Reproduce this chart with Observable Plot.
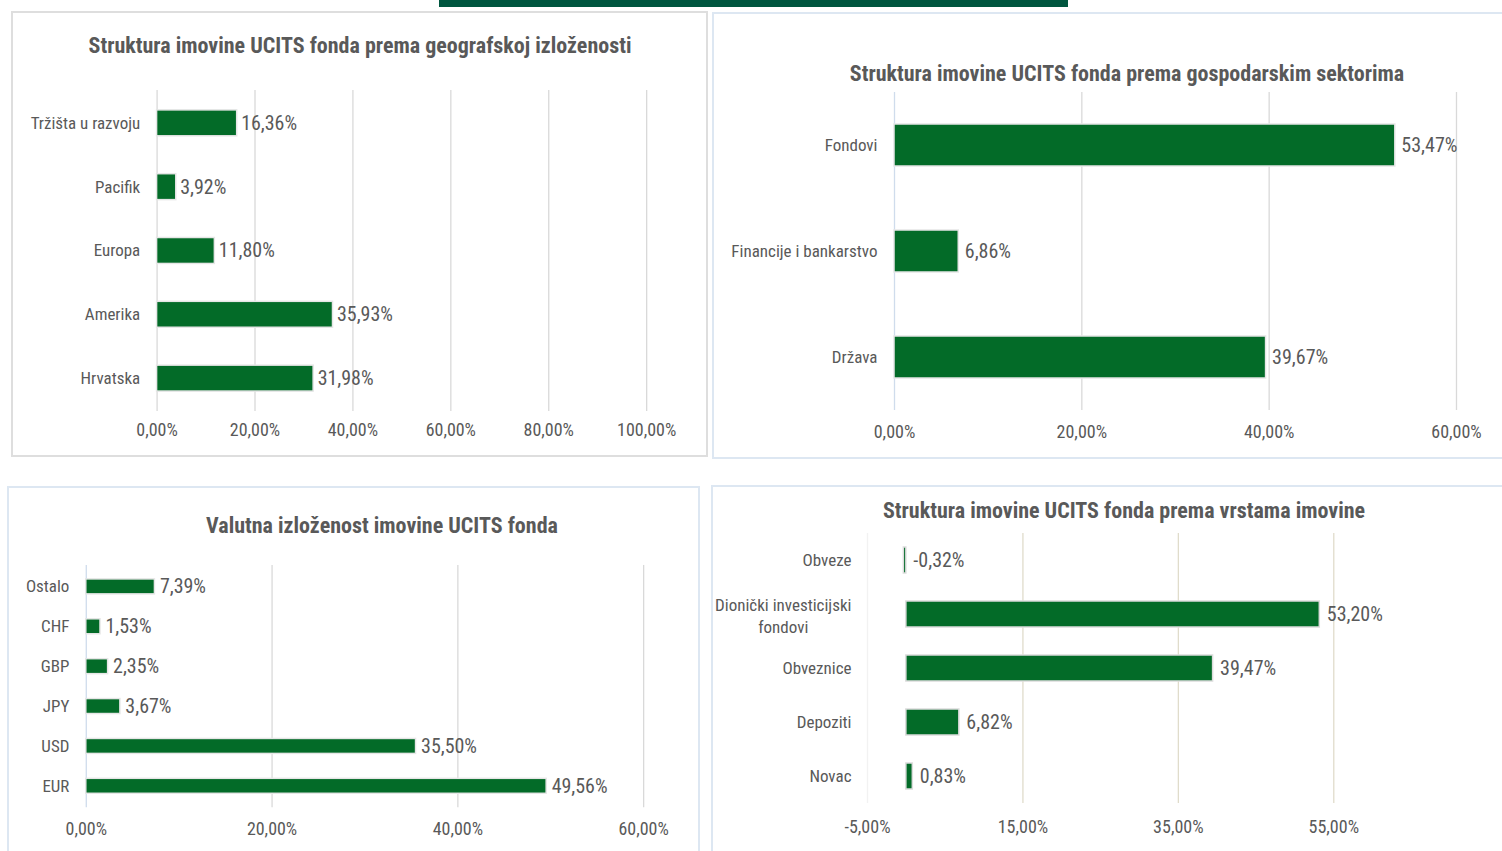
<!DOCTYPE html>
<html>
<head>
<meta charset="utf-8">
<script src="https://cdn.jsdelivr.net/npm/d3@7"></script>
<script src="https://cdn.jsdelivr.net/npm/@observablehq/plot@0.6"></script>
<style>
  html, body { margin: 0; padding: 0; background: #fff; width: 1502px; height: 851px; overflow: hidden; }
  body { position: relative; font-family: "Liberation Sans Narrow", "Arial Narrow", Roboto, sans-serif; font-stretch: condensed; }
  .topbar { position: absolute; left: 439px; top: 0; width: 629px; height: 7px; background: #00563f; }
  .panel { position: absolute; box-sizing: border-box; background: #fff; }
  .title { position: absolute; width: 1000px; text-align: center; font-weight: bold; font-size: 22px; color: #595959; white-space: nowrap; }
  .chart { position: absolute; }
  .chart svg { overflow: visible; font-stretch: condensed; }
</style>
</head>
<body>
<div class="topbar"></div>
<div id="p1" class="panel" style="left:11px;top:11px;width:697px;height:446px;border:2px solid #dedede;"></div>
<div id="p2" class="panel" style="left:712px;top:12px;width:800px;height:447px;border:2px solid #dde7f2;"></div>
<div id="p3" class="panel" style="left:7px;top:486px;width:693px;height:380px;border:2px solid #dde7f2;"></div>
<div id="p4" class="panel" style="left:711px;top:485px;width:800px;height:380px;border:2px solid #dde7f2;"></div>

<script>
// ---- Data ----
const geoTitle = "Struktura imovine UCITS fonda prema geografskoj izloženosti";
const geoCategories = ["Tržišta u razvoju", "Pacifik", "Europa", "Amerika", "Hrvatska"];
const geoValues = [16.36, 3.92, 11.80, 35.93, 31.98];
const geoTicks = [0, 20, 40, 60, 80, 100];

const sectorTitle = "Struktura imovine UCITS fonda prema gospodarskim sektorima";
const sectorCategories = ["Fondovi", "Financije i bankarstvo", "Država"];
const sectorValues = [53.47, 6.86, 39.67];
const sectorTicks = [0, 20, 40, 60];

const currencyTitle = "Valutna izloženost imovine UCITS fonda";
const currencyCategories = ["Ostalo", "CHF", "GBP", "JPY", "USD", "EUR"];
const currencyValues = [7.39, 1.53, 2.35, 3.67, 35.50, 49.56];
const currencyTicks = [0, 20, 40, 60];

const assetTitle = "Struktura imovine UCITS fonda prema vrstama imovine";
const assetCategories = ["Obveze", "Dionički investicijski\nfondovi", "Obveznice", "Depoziti", "Novac"];
const assetValues = [-0.32, 53.20, 39.47, 6.82, 0.83];
const assetTicks = [-5, 15, 35, 55];

// ---- Helpers ----
const GREEN = "#036b28";
const TEXT = "#595959";
const FONT = '"Liberation Sans Narrow", "Arial Narrow", Roboto, sans-serif';
const Y_SIZE = 17;
const X_SIZE = 18;
const VALUE_SIZE = 20;
const pct = v => v.toFixed(2).replace(".", ",") + "%";

const measureSvg = d3.select("body").append("svg").attr("width", 0).attr("height", 0)
  .style("position", "absolute").style("font-stretch", "condensed");
function textWidth(s, size) {
  const t = measureSvg.append("text").attr("font-family", FONT).attr("font-size", size).text(s);
  const w = t.node().getComputedTextLength();
  t.remove();
  return w;
}

function makePanel(id, cfg) {
  const panel = document.getElementById(id);
  const t = document.createElement("div");
  t.className = "title";
  t.textContent = cfg.title;
  t.style.top = cfg.titleTop + "px";
  t.style.left = (cfg.titleCenter - 500) + "px";
  panel.appendChild(t);

  const data = cfg.categories.map((c, i) => ({category: c, value: cfg.values[i]}));
  const single = cfg.categories.filter(c => !c.includes("\n"));
  const multi = cfg.categories.filter(c => c.includes("\n"));
  const pad = cfg.yTickPadding;

  const marks = [
    Plot.ruleX(cfg.ticks, {stroke: d => d === cfg.ticks[0] ? cfg.firstGrid : cfg.grid, strokeWidth: 1.3}),
    Plot.barX(data, {
      x1: 0, x2: "value", y: "category",
      fill: GREEN, stroke: cfg.barStroke, strokeWidth: 1.5
    }),
    Plot.text(data, {
      x: d => Math.max(0, d.value), y: "category",
      text: d => pct(d.value),
      textAnchor: "start", dx: cfg.labelDx, fill: TEXT, fontSize: VALUE_SIZE
    }),
    Plot.axisX({
      ticks: cfg.ticks, tickFormat: pct, tickSize: 0, tickPadding: cfg.xTickPadding,
      fontSize: X_SIZE, fill: TEXT, label: null
    }),
    Plot.axisY(single, {
      tickSize: 0, tickPadding: pad, fontSize: Y_SIZE, fill: TEXT, label: null
    })
  ];
  // multi-line category labels are centred on their own block, as in the original
  for (const c of multi) {
    const w = Math.max(...c.split("\n").map(s => textWidth(s, Y_SIZE)));
    marks.push(Plot.text([c], {
      frameAnchor: "left", y: d => d, text: d => d,
      textAnchor: "middle", dx: -(pad + w / 2), fontSize: Y_SIZE, fill: TEXT, lineHeight: 1.3
    }));
  }

  const chart = Plot.plot({
    width: cfg.width,
    height: cfg.height,
    marginLeft: cfg.marginLeft,
    marginRight: cfg.marginRight,
    marginTop: cfg.marginTop,
    marginBottom: cfg.marginBottom,
    style: {fontFamily: FONT, fontSize: Y_SIZE + "px", color: TEXT, background: "transparent", overflow: "visible"},
    x: {domain: cfg.xDomain, label: null},
    y: {domain: cfg.categories, paddingInner: cfg.padding, paddingOuter: cfg.padding / 2, label: null},
    marks
  });
  const wrap = document.createElement("div");
  wrap.className = "chart";
  wrap.style.left = "-2px";
  wrap.style.top = cfg.top + "px";
  wrap.appendChild(chart);
  panel.appendChild(wrap);
}

// Panel 1 (page left 11, top 11)
makePanel("p1", {
  title: geoTitle, titleTop: 20, titleCenter: 347,
  categories: geoCategories, values: geoValues, ticks: geoTicks,
  xDomain: [0, 100], padding: 0.6,
  top: 57, width: 697, height: 382,
  marginLeft: 146, marginRight: 60, marginTop: 20, marginBottom: 40,
  grid: "#d9d9d9", firstGrid: "#d9d9d9", barStroke: "#e6e6e6",
  labelDx: 4, xTickPadding: 12, yTickPadding: 17
});

// Panel 2 (page left 712, top 12)
makePanel("p2", {
  title: sectorTitle, titleTop: 47, titleCenter: 413,
  categories: sectorCategories, values: sectorValues, ticks: sectorTicks,
  xDomain: [0, 60], padding: 0.6,
  top: 70, width: 790, height: 372,
  marginLeft: 182, marginRight: 46, marginTop: 8, marginBottom: 46,
  grid: "#d9d9d9", firstGrid: "#cfdcec", barStroke: "#e6e6e6",
  labelDx: 6, xTickPadding: 15, yTickPadding: 17
});

// Panel 3 (page left 7, top 486)
makePanel("p3", {
  title: currencyTitle, titleTop: 25, titleCenter: 373,
  categories: currencyCategories, values: currencyValues, ticks: currencyTicks,
  xDomain: [0, 60], padding: 0.62,
  top: 63, width: 693, height: 298,
  marginLeft: 79, marginRight: 55, marginTop: 14, marginBottom: 41,
  grid: "#d9d9d9", firstGrid: "#cfdcec", barStroke: "#e6e6e6",
  labelDx: 5, xTickPadding: 15, yTickPadding: 17
});

// Panel 4 (page left 711, top 485)
makePanel("p4", {
  title: assetTitle, titleTop: 11, titleCenter: 411,
  categories: assetCategories, values: assetValues, ticks: assetTicks,
  xDomain: [-5, 65], padding: 0.52,
  top: 36, width: 790, height: 320,
  marginLeft: 156, marginRight: 90, marginTop: 10, marginBottom: 40,
  grid: "#e0dccb", firstGrid: "#f2f2f2", barStroke: "#dcdcdc",
  labelDx: 7, xTickPadding: 17, yTickPadding: 16
});
</script>
</body>
</html>
